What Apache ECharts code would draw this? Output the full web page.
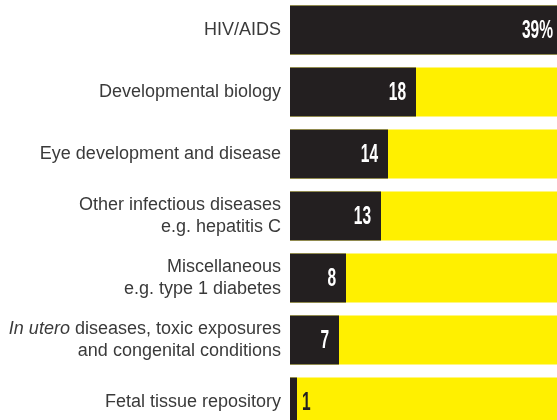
<!DOCTYPE html>
<html>
<head>
<meta charset="utf-8">
<script src="https://cdn.jsdelivr.net/npm/echarts@6/dist/echarts.min.js"></script>
<style>
html,body{margin:0;padding:0;background:#fff;}
#c{width:557px;height:420px;}
</style>
</head>
<body>
<div id="c"></div>
<script>
var categories = [
  'HIV/AIDS',
  'Developmental biology',
  'Eye development and disease',
  'Other infectious diseases\ne.g. hepatitis C',
  'Miscellaneous\ne.g. type 1 diabetes',
  'In utero diseases, toxic exposures\nand congenital conditions',
  'Fetal tissue repository'
];
var values = [39, 18, 14, 13, 8, 7, 1];
var valueLabels = ['39%', '18', '14', '13', '8', '7', '1'];

var BLACK = '#231f20';
var YELLOW = '#fff000';
var TEXT = '#3a3a3a';
var LABELFONT = '"Liberation Sans", Arial, sans-serif';

var chart = echarts.init(document.getElementById('c'), null, {renderer: 'canvas'});

var labelData = values.map(function (v, i) { return [v, i]; });

chart.setOption({
  animation: false,
  backgroundColor: '#ffffff',
  grid: {left: 290, top: -1, width: 280, height: 434, containLabel: false, outerBoundsMode: 'none'},
  xAxis: {
    type: 'value', min: 0, max: 40,
    show: false
  },
  yAxis: {
    type: 'category',
    data: categories,
    inverse: true,
    axisLine: {show: false},
    axisTick: {show: false},
    splitLine: {show: false},
    axisLabel: {
      margin: 9,
      color: TEXT,
      fontFamily: LABELFONT,
      fontSize: 18,
      lineHeight: 22,
      align: 'right',
      formatter: function (val) {
        if (val.indexOf('In utero') === 0) {
          var lines = val.split('\n');
          return '{it|In utero}{n|' + lines[0].slice(8) + '}\n{n|' + lines[1] + '}';
        }
        return val.split('\n').map(function (l) { return '{n|' + l + '}'; }).join('\n');
      },
      rich: {
        n: {color: TEXT, fontFamily: LABELFONT, fontSize: 18, lineHeight: 22},
        it: {color: TEXT, fontFamily: LABELFONT, fontSize: 18, lineHeight: 22, fontStyle: 'italic'}
      }
    }
  },
  series: [{
    type: 'bar',
    data: values,
    barWidth: 49,
    itemStyle: {color: BLACK},
    showBackground: true,
    backgroundStyle: {color: YELLOW},
    label: {show: false}
  }, {
    type: 'custom',
    data: labelData,
    clip: false,
    z: 10,
    renderItem: function (params, api) {
      var v = api.value(0);
      var idx = params.dataIndex;
      var pt = api.coord([v, api.value(1)]);
      var small = v < 3;
      return {
        type: 'text',
        x: small ? pt[0] + 5 : pt[0] - 10,
        y: pt[1] + 1,
        scaleX: 0.62,
        style: {
          text: valueLabels[idx],
          x: 0, y: 0,
          align: small ? 'left' : 'right',
          verticalAlign: 'middle',
          fill: small ? BLACK : '#ffffff',
          font: 'bold 25px "Liberation Sans", Arial, sans-serif'
        }
      };
    }
  }]
});
</script>
</body>
</html>
